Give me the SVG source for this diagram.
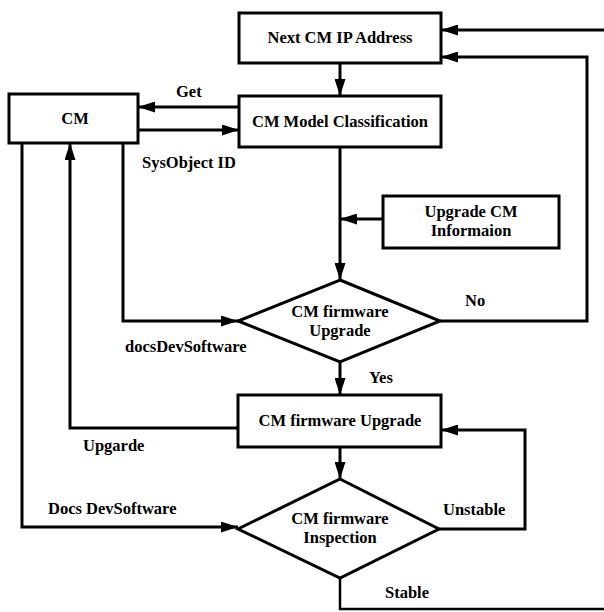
<svg xmlns="http://www.w3.org/2000/svg" width="604" height="612" viewBox="0 0 604 612">
<style>
.box{fill:#fff;stroke:#000;stroke-width:3}
.ln{fill:none;stroke:#000;stroke-width:3;stroke-linejoin:miter}
text{font-family:"Liberation Serif","Times New Roman",serif;font-weight:bold;font-size:16.5px;fill:#000}
.c{text-anchor:middle}
</style>
<defs>
<marker id="ah" viewBox="0 0 17 11" refX="17" refY="5.5" markerWidth="17" markerHeight="11" markerUnits="userSpaceOnUse" orient="auto">
<path d="M0,0 L17,5.5 L0,11 z" fill="#000"/>
</marker>
</defs>
<rect width="604" height="612" fill="#fff"/>
<g id="connectors">
<path class="ln" d="M604,30 L441,30" marker-end="url(#ah)"/>
<path class="ln" d="M340,63 L340,96" marker-end="url(#ah)"/>
<path class="ln" d="M239,107 L138,107" marker-end="url(#ah)"/>
<path class="ln" d="M138,130 L239,130" marker-end="url(#ah)"/>
<path class="ln" d="M340,147 L340,280" marker-end="url(#ah)"/>
<path class="ln" d="M383,219 L340,219" marker-end="url(#ah)"/>
<path class="ln" d="M440,321 L587,321 L587,57 L441,57" marker-end="url(#ah)"/>
<path class="ln" d="M123,143 L123,321 L238,321" marker-end="url(#ah)"/>
<path class="ln" d="M340,362 L340,395" marker-end="url(#ah)"/>
<path class="ln" d="M238,428 L70,428 L70,143" marker-end="url(#ah)"/>
<path class="ln" d="M340,447 L340,479" marker-end="url(#ah)"/>
<path class="ln" d="M22,143 L22,527 L238,527" marker-end="url(#ah)"/>
<path class="ln" d="M439,529 L525,529 L525,430 L441,430" marker-end="url(#ah)"/>
<path class="ln" d="M340,578 L340,609 L604,609" style="stroke-width:2.5"/>
</g>
<g id="labels">
<text x="176" y="97">Get</text>
<text x="142" y="168">SysObject ID</text>
<text x="125" y="352">docsDevSoftware</text>
<text x="83" y="451">Upgarde</text>
<text x="48" y="514">Docs DevSoftware</text>
<text x="369" y="383">Yes</text>
<text x="465" y="306">No</text>
<text x="443" y="515">Unstable</text>
<text x="385" y="598">Stable</text>
</g>
<g id="next-cm-ip">
<rect class="box" x="239" y="13" width="202" height="50"/>
<text class="c" x="340" y="43">Next CM IP Address</text>
</g>
<g id="cm">
<rect class="box" x="9" y="94" width="129" height="49"/>
<text class="c" x="75" y="124">CM</text>
</g>
<g id="cm-model-classification">
<rect class="box" x="239" y="96" width="202" height="51"/>
<text class="c" x="340" y="127">CM Model Classification</text>
</g>
<g id="upgrade-cm-info">
<rect class="box" x="383" y="196" width="176" height="52"/>
<text class="c" x="471" y="217">Upgrade CM</text>
<text class="c" x="471" y="236">Informaion</text>
</g>
<g id="decision-upgrade">
<polygon class="box" points="340,280 440,321 340,362 238,321"/>
<text class="c" x="340" y="317">CM firmware</text>
<text class="c" x="340" y="336">Upgrade</text>
</g>
<g id="firmware-upgrade">
<rect class="box" x="238" y="395" width="203" height="52"/>
<text class="c" x="340" y="426">CM firmware Upgrade</text>
</g>
<g id="decision-inspection">
<polygon class="box" points="340,479 439,529 340,578 238,529"/>
<text class="c" x="340" y="524">CM firmware</text>
<text class="c" x="340" y="543">Inspection</text>
</g>
</svg>
